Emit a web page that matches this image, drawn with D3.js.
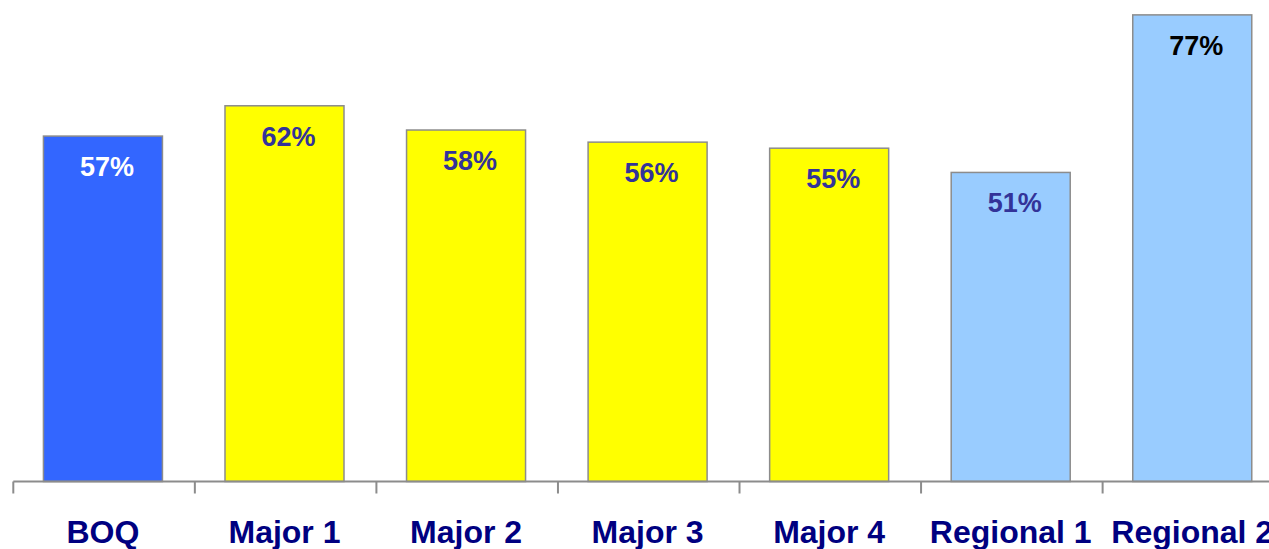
<!DOCTYPE html>
<html>
<head>
<meta charset="utf-8">
<script src="https://cdn.jsdelivr.net/npm/d3@7"></script>
<style>
  html, body { margin: 0; padding: 0; background: #fff; overflow: hidden; }
  svg { display: block; }
</style>
</head>
<body>
<svg id="chart" width="1269" height="549"></svg>
<script>
// Share of each bank, in percent
const categories = ["BOQ", "Major 1", "Major 2", "Major 3", "Major 4", "Regional 1", "Regional 2"];
const values = [57, 62, 58, 56, 55, 51, 77];
const groups = ["own", "major", "major", "major", "major", "regional", "regional"];

const fillByGroup = { own: "#3366FF", major: "#FFFF00", regional: "#99CCFF" };
const labelColors = ["#FFFFFF", "#333399", "#333399", "#333399", "#333399", "#333399", "#000000"];

const svg = d3.select("#chart");
const W = 1269;
const baseY = 481.5;
const axisStart = 13.3;

const x = d3.scaleBand()
  .domain(categories)
  .range([axisStart, axisStart + 1268.6])
  .paddingInner(0.3445)
  .paddingOuter(0.166);

const y = d3.scaleLinear()
  .domain([0, 100])
  .range([baseY, baseY - 606]);

const data = categories.map((c, i) => ({ cat: c, v: values[i], g: groups[i], lc: labelColors[i] }));

// Bars
svg.append("g").selectAll("rect")
  .data(data)
  .join("rect")
  .attr("x", d => x(d.cat))
  .attr("y", d => y(d.v))
  .attr("width", x.bandwidth())
  .attr("height", d => baseY - y(d.v))
  .attr("fill", d => fillByGroup[d.g])
  .attr("stroke", "#8C8C8C")
  .attr("stroke-width", 1.5);

// Value labels just inside the top of each bar
svg.append("g").selectAll("text")
  .data(data)
  .join("text")
  .attr("x", d => x(d.cat) + x.bandwidth() / 2 + 4)
  .attr("y", d => y(d.v) + 40)
  .attr("text-anchor", "middle")
  .attr("font-family", "Liberation Sans, Arial, sans-serif")
  .attr("font-weight", "bold")
  .attr("font-size", 27)
  .attr("fill", d => d.lc)
  .text(d => d.v + "%");

// Category axis with tick marks between bands
const axisG = svg.append("g");
axisG.append("line")
  .attr("x1", axisStart).attr("x2", W)
  .attr("y1", baseY).attr("y2", baseY)
  .attr("stroke", "#8C8C8C").attr("stroke-width", 2);

const tickPos = d3.range(categories.length + 1).map(i => axisStart + i * x.step());
axisG.selectAll("line.tick")
  .data(tickPos)
  .join("line")
  .attr("class", "tick")
  .attr("x1", d => d).attr("x2", d => d)
  .attr("y1", baseY).attr("y2", baseY + 12)
  .attr("stroke", "#8C8C8C").attr("stroke-width", 2);

axisG.selectAll("text")
  .data(categories)
  .join("text")
  .attr("x", d => x(d) + x.bandwidth() / 2)
  .attr("y", 543)
  .attr("text-anchor", "middle")
  .attr("font-family", "Liberation Sans, Arial, sans-serif")
  .attr("font-weight", "bold")
  .attr("font-size", 32)
  .attr("fill", "#000080")
  .text(d => d);
</script>
</body>
</html>
